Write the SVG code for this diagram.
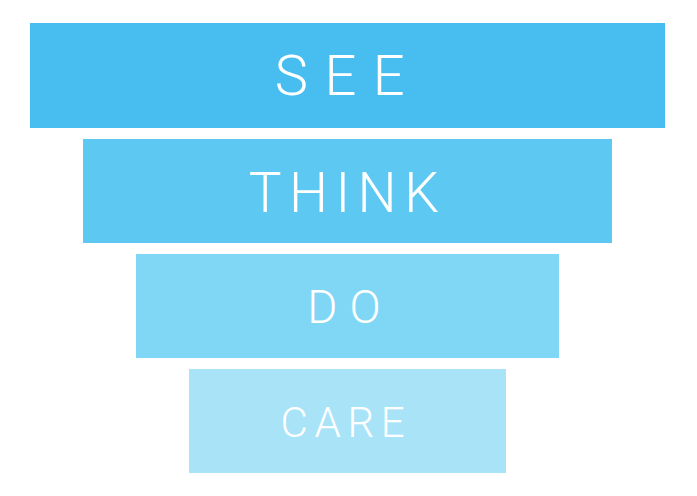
<svg xmlns="http://www.w3.org/2000/svg" width="697" height="496" viewBox="0 0 697 496">
<style>
.t{font-family:Roboto,"Liberation Sans",sans-serif;font-weight:300;fill:#fff;text-anchor:middle}
</style>
<rect width="697" height="496" fill="#fff"/>
<g id="see"><rect x="30" y="23" width="635" height="105" fill="#48BEF0"/><text class="t" x="348" y="95" font-size="56" letter-spacing="16.5">SEE</text></g>
<g id="think"><rect x="83" y="139" width="529" height="104" fill="#5DC9F3"/><text class="t" x="347.5" y="212" font-size="55" letter-spacing="7.5">THINK</text></g>
<g id="do"><rect x="136" y="254" width="423" height="104" fill="#80D7F5"/><text class="t" x="350" y="323" font-size="46" letter-spacing="12">DO</text></g>
<g id="care"><rect x="189" y="369" width="317" height="104" fill="#A9E3F8"/><text class="t" x="346" y="437" font-size="42" letter-spacing="6.7">CARE</text></g>
<g id="connectors"/>
</svg>
